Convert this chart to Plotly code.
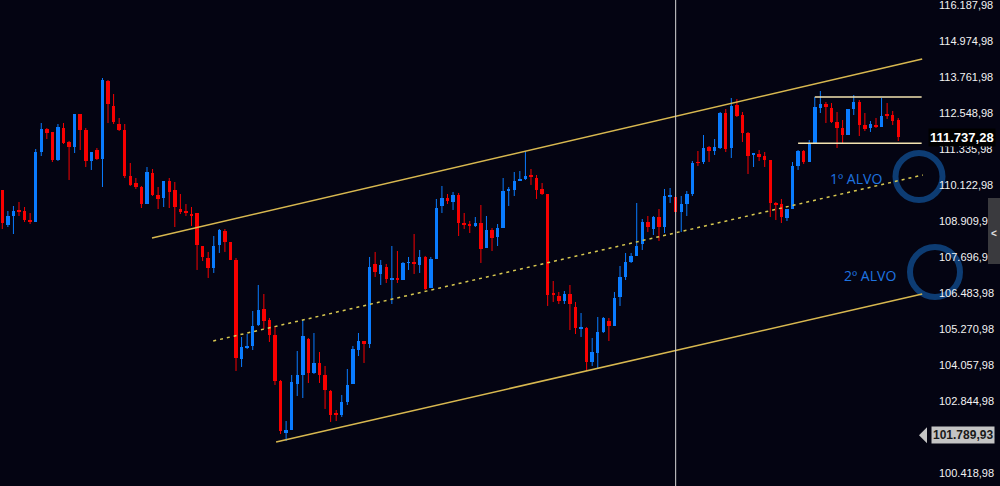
import plotly.graph_objects as go

# ---------------- data ----------------
OPEN = [109955,108776,109079,109281,109247,108944,108877,111235,112010,111909,
        110966,112043,111572,111403,112515,111976,110932,111302,110999,113627,
        112785,112178,111976,110427,110191,110056,109483,110528,109787,109686,
        110258,109955,109315,109247,109146,109180,108068,107664,107327,108102,
        108573,108203,107597,104261,104632,104700,105407,105946,105575,105070,
        103520,101768,101869,103419,103722,104935,103790,104127,103722,103183,
        102408,102375,102813,103419,104565,104868,104767,107462,107125,107361,
        106923,106957,106923,107496,107529,107428,107698,106654,107631,109416,
        109686,109551,109787,108843,108776,108742,108843,108001,108607,108371,
        108674,109921,109955,110258,110326,110427,110359,109989,109820,106451,
        106384,106215,106451,106013,105272,105306,104160,104464,105171,105541,
        105373,106350,107024,107529,107732,108135,108877,108641,109045,108708,
        109719,109719,109214,109483,109820,110898,110898,111403,111269,111369,
        112549,111369,112819,112482,111875,111134,111168,111100,110966,109517,
        109483,109011,109315,110764,111269,110898,111538,112718,112852,112718,
        112246,112043,111808,112684,112920,112145,112043,112145,112077,112482,
        112482,112313]
HIGH = [109955,109247,109416,109551,109382,109180,111336,112212,112043,111909,
        112178,112212,111605,112515,112515,112043,111235,111369,113728,113661,
        113189,112380,112178,110865,110359,110090,110730,110662,110056,110258,
        110359,110224,109820,109483,109382,109180,108068,107867,108405,108641,
        108641,108203,107664,105003,105103,105878,106755,106451,105643,105373,
        103554,102172,103722,104531,105575,104969,105137,104497,104026,103217,
        102543,103049,103924,104700,105137,104868,107698,107867,107597,107462,
        108068,107900,107529,107698,108472,107934,107732,107698,109652,110090,
        109820,109888,109854,109180,108910,109045,109449,109079,108674,108809,
        110359,110056,110561,110595,111269,110662,110460,110191,109820,106889,
        106519,106552,106755,106182,105811,105339,104969,105676,105676,105643,
        106519,107394,107833,107833,109517,108978,109079,109079,109315,109989,
        110022,109719,109753,109921,110932,111269,111808,111437,111673,112583,
        112684,113054,113021,112583,111909,111201,111302,111235,110966,109551,
        109652,109315,110898,111302,111302,111639,113088,113290,112920,112886,
        112583,112313,112684,113155,112987,112549,112279,112380,113054,112886,
        112617,112380]
LOW = [108641,108708,108472,109079,108877,108809,108877,111100,111673,110898,
       110932,111504,110292,111201,111302,110730,110629,110966,110056,112212,
       112178,111942,110359,110090,109989,109348,109483,109753,109315,109382,
       109348,108708,109146,109079,108742,107260,107563,106990,107159,107833,
       107867,107597,103857,103992,104598,104565,105373,105272,104834,103386,
       101734,101499,101869,103015,102947,103453,103756,103453,102577,102139,
       102172,102307,102712,103419,104362,104127,104632,107024,106755,106822,
       106114,106822,106923,107260,107125,107159,106586,106654,107631,109180,
       109483,109281,108405,108641,108506,108708,107496,108001,107900,108068,
       108674,109416,109753,110258,110292,110124,109652,109787,106047,106182,
       106114,106114,105238,105103,105003,103857,104026,103924,105137,104868,
       105373,106047,106923,107496,107732,107934,108540,108439,108237,108506,
       109517,109214,108540,109079,109753,110764,110831,110898,111134,111336,
       111235,111033,112414,111572,110494,110730,110932,110730,109045,108944,
       108843,108910,109315,110629,110831,110898,111538,112549,112212,112212,
       111369,111538,111808,112482,111774,111942,111909,112043,112077,112347,
       112145,111605]
CLOSE = [108843,109079,109247,109214,108944,108877,111235,112010,111875,110966,
         112077,111538,111403,112515,111976,110932,111235,110999,113661,112852,
         112246,111976,110427,110124,110056,109483,110561,109787,109652,110258,
         109888,109382,109214,109180,109112,108102,107698,107327,108068,108607,
         108203,107597,104295,104666,104700,105373,105912,105541,105070,103520,
         101835,101869,103487,103722,105036,103790,104127,103722,103217,102375,
         102375,102813,103386,104598,104868,104767,107361,107192,107428,106957,
         106957,106923,107496,107529,107462,107698,106620,107631,109348,109686,
         109584,109787,108843,108776,108742,108843,107968,108607,108338,108674,
         109921,109955,110258,110326,110427,110393,109955,109820,106418,106418,
         106215,106451,106114,105306,105339,104160,104497,105171,105643,105373,
         106316,107024,107529,107732,108068,108877,108708,109045,108708,109753,
         109787,109214,109483,109820,110865,110865,111369,111269,111403,112549,
         111336,112785,112448,111875,111100,111201,111067,110966,109517,109449,
         109045,109315,110764,111269,110898,111504,112751,112852,112751,112246,
         112043,111808,112684,112920,112145,112010,112178,112077,112448,112448,
         112279,111737.28]

TICK_VALUES = [100418.98, 101631.98, 102844.98, 104057.98, 105270.98, 106483.98,
               107696.98, 108909.98, 110122.98, 111335.98, 112548.98, 113761.98,
               114974.98, 116187.98]

# channel lines: (x0, y0, x1, y1) in bar index / price
UPPER_LINE = (26.9, 108338, 165.3, 114368)
LOWER_LINE = (49.2, 101465, 165.3, 106451)
MID_LINE = (37.9, 104868, 165.4, 110460)
RANGE_TOP = (146.0, 113088, 165.2, 113088)
RANGE_BOTTOM = (143.0, 111528, 165.2, 111528)
CURSOR_INDEX = 121
LAST_PRICE = 111737.28
MARK_PRICE = 101789.93

# ---------------- styling ----------------
BG = "#040412"
UP = "#0a7cff"
DOWN = "#f80000"
GOLD = "#d8b850"
PLOT_W = 930.0  # plot area width in px (labels live in the right margin)


def px(x):
    return x / PLOT_W


idx = list(range(len(OPEN)))
up_i = [i for i in idx if CLOSE[i] >= OPEN[i]]
dn_i = [i for i in idx if CLOSE[i] < OPEN[i]]


def body_trace(ids, color):
    return go.Bar(
        x=ids,
        base=[min(OPEN[i], CLOSE[i]) for i in ids],
        y=[max(abs(CLOSE[i] - OPEN[i]), 30) for i in ids],
        width=0.62,
        marker=dict(color=color, line=dict(width=0)),
        hoverinfo="skip",
        showlegend=False,
    )


def wick_trace(ids, color):
    xs, ys = [], []
    for i in ids:
        xs += [i, i, None]
        ys += [LOW[i], HIGH[i], None]
    return go.Scatter(x=xs, y=ys, mode="lines", line=dict(color=color, width=1),
                      hoverinfo="skip", showlegend=False)


fig = go.Figure()
fig.add_trace(wick_trace(up_i, UP))
fig.add_trace(wick_trace(dn_i, DOWN))
fig.add_trace(body_trace(up_i, UP))
fig.add_trace(body_trace(dn_i, DOWN))

shapes = []
for ln, dash, col in [(UPPER_LINE, "solid", GOLD), (LOWER_LINE, "solid", GOLD),
                      (MID_LINE, "3px,4px", "#d8c850"),
                      (RANGE_TOP, "solid", "#f3e3b0"), (RANGE_BOTTOM, "solid", "#f3e3b0")]:
    shapes.append(dict(type="line", xref="x", yref="y", x0=ln[0], y0=ln[1], x1=ln[2], y1=ln[3],
                       line=dict(color=col, width=1.5, dash=dash), layer="above"))
# vertical cursor line
shapes.append(dict(type="line", xref="x", yref="paper", x0=CURSOR_INDEX, x1=CURSOR_INDEX,
                   y0=0, y1=1, line=dict(color="#d6d6d6", width=1)))
# target circles (below, so the price labels stay on top)
shapes.append(dict(type="circle", xref="paper", yref="paper", x0=px(895.5), x1=px(942.5),
                   y0=1 - 200 / 486, y1=1 - 153 / 486, layer="below",
                   line=dict(color="#0d3c73", width=6)))
shapes.append(dict(type="circle", xref="paper", yref="paper", x0=px(910), x1=px(960),
                   y0=1 - 297 / 486, y1=1 - 247 / 486, layer="below",
                   line=dict(color="#0d3c73", width=6)))
# right side tab
shapes.append(dict(type="rect", xref="paper", yref="paper", x0=px(988), x1=px(1000),
                   y0=1 - 264 / 486, y1=1 - 198 / 486, fillcolor="#3a3a3e", line=dict(width=0)))
# arrow of the mark price label
shapes.append(dict(type="path", xref="paper", yref="y",
                   path=f"M {px(919)} {MARK_PRICE - 100} L {px(927)} {MARK_PRICE + 170} "
                        f"L {px(927)} {MARK_PRICE - 370} Z",
                   fillcolor="#c4c4c4", line=dict(width=0)))

annotations = [
    dict(xref="paper", yref="paper", x=px(855.5), y=1 - 179 / 486, xanchor="center", yanchor="middle",
         text="1º ALVO", showarrow=False,
         font=dict(family="Open Sans", size=14, color="#1f74e0")),
    dict(xref="paper", yref="paper", x=px(870), y=1 - 275 / 486, xanchor="center", yanchor="middle",
         text="2º ALVO", showarrow=False,
         font=dict(family="Open Sans", size=14, color="#1f74e0")),
    dict(xref="paper", yref="y", x=px(996), y=LAST_PRICE, xanchor="right", yanchor="middle",
         text="<b>111.737,28</b>", showarrow=False, bgcolor="#000000", borderpad=1,
         font=dict(family="Liberation Sans", size=13, color="#ffffff")),
    dict(xref="paper", yref="y", x=px(995), y=MARK_PRICE - 100, xanchor="right", yanchor="middle",
         text="<b>101.789,93</b>", showarrow=False, bgcolor="#c4c4c4", borderpad=1,
         font=dict(family="Liberation Sans", size=12, color="#1a1a1a")),
    dict(xref="paper", yref="paper", x=px(994), y=1 - 233 / 486, xanchor="center", yanchor="middle",
         text="<b>&lt;</b>", showarrow=False,
         font=dict(family="Liberation Sans", size=10, color="#e0e0e0")),
]

fig.update_layout(
    width=1000, height=486, autosize=False,
    margin=dict(l=0, r=1000 - PLOT_W, t=0, b=0),
    paper_bgcolor=BG, plot_bgcolor="rgba(0,0,0,0)",
    barmode="overlay", bargap=0,
    separators=",.",
    showlegend=False,
    shapes=shapes,
    annotations=annotations,
    hovermode=False,
    xaxis=dict(range=[-0.413, (PLOT_W - 2.3) / 5.565], visible=False, fixedrange=True),
    yaxis=dict(range=[99982, 116356], side="right", tickvals=TICK_VALUES, tickformat=",.2f",
               ticks="", ticklabelstandoff=8, ticklabeloverflow="allow",
               showgrid=False, zeroline=False, showline=False, fixedrange=True,
               tickfont=dict(family="Liberation Sans", size=11, color="#f2f2f2")),
)

fig.write_html("out.html", config={"displayModeBar": False})
